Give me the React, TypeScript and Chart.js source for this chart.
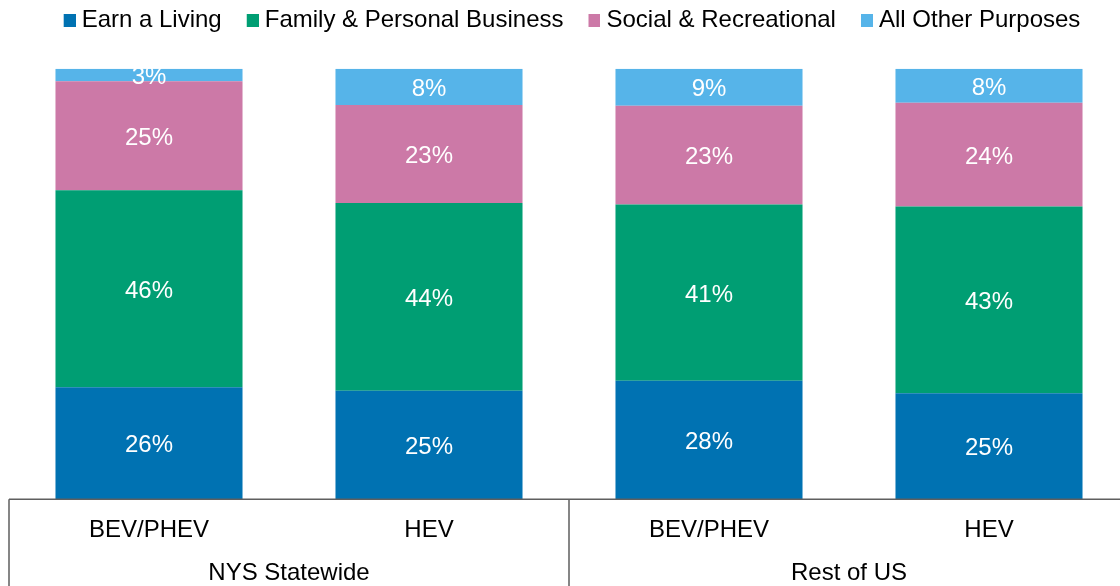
import React, { useEffect, useRef } from "react";
import { Chart, registerables } from "chart.js";

Chart.register(...registerables);

const subLabels = ["BEV/PHEV", "HEV", "BEV/PHEV", "HEV"];
const groupLabels = ["NYS Statewide", "Rest of US"];

const earnLiving = [26.0, 25.2, 27.5, 24.6];
const familyBusiness = [45.8, 43.6, 41.0, 43.4];
const socialRecreational = [25.3, 22.8, 22.9, 24.1];
const otherPurposes = [2.9, 8.4, 8.6, 7.9];

const seriesNames = [
  "Earn a Living",
  "Family & Personal Business",
  "Social & Recreational",
  "All Other Purposes",
];
const seriesColors = ["#0072B2", "#009E73", "#CC79A7", "#56B4E9"];

const FONT = "'Liberation Sans', Arial, sans-serif";
const FONT_SIZE = 24;
const LINE_COLOR = "#5f5f5f";

function makeLegendMarker(color: string): HTMLCanvasElement {
  const c = document.createElement("canvas");
  c.width = 24;
  c.height = 13;
  const g = c.getContext("2d");
  if (g) {
    g.fillStyle = color;
    g.fillRect(12, 0, 12, 13);
  }
  return c;
}

const legendSpacer = {
  id: "legendSpacer",
  beforeInit(chart: any) {
    const legend = chart.legend;
    if (!legend) return;
    const orig = legend.fit;
    legend.fit = function () {
      orig.call(this);
      this.height += 26.8;
    };
  },
};

const segmentLabels = {
  id: "segmentLabels",
  afterDatasetsDraw(chart: any) {
    const ctx = chart.ctx;
    ctx.save();
    ctx.fillStyle = "#ffffff";
    ctx.font = `${FONT_SIZE}px ${FONT}`;
    ctx.textAlign = "center";
    ctx.textBaseline = "middle";
    chart.data.datasets.forEach((ds: any, di: number) => {
      const meta = chart.getDatasetMeta(di);
      meta.data.forEach((bar: any, i: number) => {
        const v = ds.data[i];
        const cy = (bar.y + bar.base) / 2 + 2.5;
        ctx.fillText(`${Math.round(v)}%`, bar.x, cy);
      });
    });
    ctx.restore();
  },
};

const axisBox = {
  id: "axisBox",
  afterDraw(chart: any) {
    const ctx = chart.ctx;
    const xs = chart.scales.x;
    const bottom = chart.chartArea.bottom;
    const perGroup = subLabels.length / groupLabels.length;
    const bounds: number[] = [xs.left];
    for (let g = 1; g < groupLabels.length; g++) {
      const i = g * perGroup;
      bounds.push((xs.getPixelForValue(i - 1) + xs.getPixelForValue(i)) / 2);
    }
    bounds.push(xs.right);
    ctx.save();
    ctx.strokeStyle = LINE_COLOR;
    ctx.lineWidth = 1.5;
    ctx.beginPath();
    ctx.moveTo(xs.left, bottom);
    ctx.lineTo(xs.right, bottom);
    bounds.forEach((bx) => {
      ctx.moveTo(bx, bottom);
      ctx.lineTo(bx, chart.height);
    });
    ctx.stroke();
    ctx.restore();
  },
};

export default function App() {
  const canvasRef = useRef<HTMLCanvasElement | null>(null);

  useEffect(() => {
    if (!canvasRef.current) return;
    const values = [earnLiving, familyBusiness, socialRecreational, otherPurposes];
    const markers = seriesColors.map((c) => makeLegendMarker(c));
    const chart = new Chart(canvasRef.current, {
      type: "bar",
      data: {
        labels: subLabels,
        datasets: values.map((d, i) => ({
          label: seriesNames[i],
          data: d,
          backgroundColor: seriesColors[i],
          borderWidth: 0,
          categoryPercentage: 1,
          barPercentage: 0.668,
        })),
      },
      options: {
        responsive: false,
        animation: false,
        layout: { padding: { left: 9, right: 3, top: 0, bottom: 0 } },
        plugins: {
          tooltip: { enabled: false },
          legend: {
            display: true,
            position: "top",
            labels: {
              boxWidth: 12,
              boxHeight: 12,
              padding: 19,
              usePointStyle: true,
              color: "#000000",
              font: { family: FONT, size: FONT_SIZE },
              generateLabels: (ch: any) => {
                const items = (Chart as any).defaults.plugins.legend.labels.generateLabels(ch);
                return items.map((it: any, i: number) => ({
                  ...it,
                  pointStyle: markers[i % markers.length],
                }));
              },
            },
          },
        },
        scales: {
          x: {
            stacked: true,
            position: "bottom",
            weight: 0,
            grid: { display: false, drawTicks: false },
            border: { display: false },
            ticks: {
              color: "#000000",
              font: { family: FONT, size: FONT_SIZE },
              padding: 16.4,
              maxRotation: 0,
              autoSkip: false,
            },
            afterFit: (scale: any) => {
              scale.height = 44;
            },
          },
          x2: {
            type: "category",
            labels: groupLabels,
            position: "bottom",
            weight: 1,
            offset: true,
            grid: { display: false, drawTicks: false },
            border: { display: false },
            ticks: {
              color: "#000000",
              font: { family: FONT, size: FONT_SIZE },
              padding: 16.1,
              maxRotation: 0,
              autoSkip: false,
            },
            afterFit: (scale: any) => {
              scale.height = 45.8;
            },
          },
          y: {
            stacked: true,
            display: false,
            min: 0,
            max: 100,
          },
        },
      },
      plugins: [legendSpacer, segmentLabels, axisBox],
    });
    return () => chart.destroy();
  }, []);

  return (
    <div
      style={{
        position: "fixed",
        left: 0,
        top: 0,
        width: 1120,
        height: 586,
        overflow: "hidden",
        background: "#ffffff",
      }}
    >
      <div style={{ position: "absolute", left: 0, top: -11.5, width: 1132, height: 600 }}>
        <canvas ref={canvasRef} width={1132} height={600} style={{ display: "block" }} />
      </div>
    </div>
  );
}
